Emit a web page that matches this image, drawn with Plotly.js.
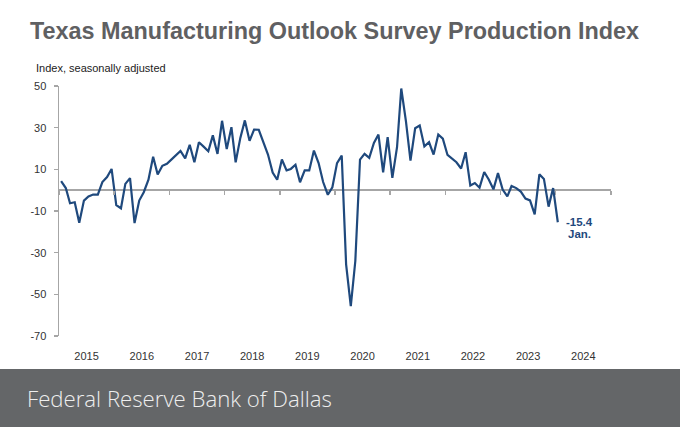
<!DOCTYPE html>
<html>
<head>
<meta charset="utf-8">
<script src="https://cdn.plot.ly/plotly-3.0.1.min.js"></script>
<style>
  html, body { margin: 0; padding: 0; background: #ffffff; }
  #chart { width: 680px; height: 427px; }
</style>
</head>
<body>
<div id="chart"></div>
<script>
// Monthly production index values (seasonally adjusted)
const years = [2015, 2016, 2017, 2018, 2019, 2020, 2021, 2022, 2023, 2024];
const v2015 = [4.3, 1.0, -6.3, -5.8, -15.6, -5.0, -3.0, -2.1, -2.1, 3.9, 6.3, 10.2];
const v2016 = [-7.2, -8.7, 3.0, 5.8, -15.8, -5.0, -1.0, 5.0, 16.0, 7.5, 11.7, 12.7];
const v2017 = [14.8, 16.8, 18.8, 15.3, 21.8, 13.4, 23.0, 20.9, 18.7, 26.3, 17.4, 33.3];
const v2018 = [19.7, 30.2, 13.4, 25.1, 33.5, 23.7, 29.1, 29.0, 22.5, 17.1, 8.5, 5.0];
const v2019 = [14.7, 9.5, 10.2, 12.2, 3.8, 9.5, 9.5, 19.0, 13.0, 3.9, -2.2, 1.4];
const v2020 = [13.0, 16.6, -35.6, -55.7, -34.0, 14.7, 17.4, 15.5, 22.7, 26.7, 8.6, 25.5];
const v2021 = [5.9, 20.6, 48.8, 33.0, 14.2, 29.7, 31.0, 21.0, 23.0, 17.1, 26.7, 24.7];
const v2022 = [16.9, 15.0, 13.4, 10.4, 18.2, 2.2, 3.4, 1.2, 8.7, 5.1, 0.4, 8.2];
const v2023 = [0.3, -3.0, 2.0, 1.0, -0.7, -4.0, -4.9, -11.6, 7.6, 5.4, -7.9, 1.0];
const v2024 = [-15.4];
const yearValues = [v2015, v2016, v2017, v2018, v2019, v2020, v2021, v2022, v2023, v2024];

// Y-axis tick values and labels (plain hyphen minus, as in the original)
const yTickValues = [-70, -50, -30, -10, 10, 30, 50];
const yTickLabels = ["-70", "-50", "-30", "-10", "10", "30", "50"];

const lastLabelMonth = "Jan.";
const titleText = "Texas Manufacturing Outlook Survey Production Index";
const subtitleText = "Index, seasonally adjusted";
const footerText = "Federal Reserve Bank of Dallas";

// Build month dates (mid-month) from the year arrays
const xs = [];
const ys = [];
years.forEach((yr, i) => {
  yearValues[i].forEach((v, m) => {
    const mm = String(m + 1).padStart(2, "0");
    xs.push(`${yr}-${mm}-15`);
    ys.push(v);
  });
});
const lastX = xs[xs.length - 1];
const lastY = ys[ys.length - 1];

const navy = "#1F497D";
const axisGray = "#a6a6a6";
const labelFont = { family: "Liberation Sans, Arial, sans-serif", size: 11, color: "#333333" };

const data = [
  {
    type: "scatter",
    mode: "lines",
    x: xs,
    y: ys,
    line: { color: navy, width: 2.2 },
    hoverinfo: "skip",
    showlegend: false
  },
  {
    type: "scatter",
    mode: "lines",
    x: [],
    y: [],
    xaxis: "x2",
    hoverinfo: "skip",
    showlegend: false
  }
];

const layout = {
  width: 680,
  height: 427,
  margin: { l: 59, r: 69, t: 86, b: 91, pad: 0 },
  paper_bgcolor: "#ffffff",
  plot_bgcolor: "#ffffff",
  showlegend: false,
  title: {
    text: "<b>" + titleText + "</b>",
    xref: "container",
    yref: "container",
    x: 30 / 680,
    xanchor: "left",
    y: 1 - 31 / 427,
    yanchor: "middle",
    font: { family: "Liberation Sans, Arial, sans-serif", size: 23.4, color: "#5f6062" }
  },
  xaxis: {
    type: "date",
    range: ["2015-01-01", "2025-01-01"],
    tick0: "2015-01-01",
    dtick: "M12",
    tickformat: "%Y",
    ticklabelmode: "period",
    ticks: "",
    showgrid: false,
    showline: false,
    zeroline: false,
    tickfont: labelFont,
    ticklabelstandoff: 12,
    fixedrange: true
  },
  xaxis2: {
    type: "date",
    overlaying: "x",
    anchor: "free",
    position: 70 / 120,
    side: "bottom",
    range: ["2015-01-01", "2025-01-01"],
    tick0: "2015-01-01",
    dtick: "M12",
    ticks: "outside",
    ticklen: 4,
    tickwidth: 1.5,
    tickcolor: axisGray,
    showticklabels: false,
    showgrid: false,
    showline: false,
    zeroline: false,
    fixedrange: true
  },
  yaxis: {
    range: [-70, 50],
    tickmode: "array",
    tickvals: yTickValues,
    ticktext: yTickLabels,
    showline: true,
    linecolor: axisGray,
    linewidth: 1.5,
    ticks: "outside",
    ticklen: 4,
    tickwidth: 1.5,
    tickcolor: axisGray,
    showgrid: false,
    zeroline: true,
    zerolinecolor: axisGray,
    zerolinewidth: 2,
    tickfont: labelFont,
    ticklabelstandoff: 5,
    fixedrange: true
  },
  shapes: [
    {
      type: "rect",
      xref: "paper",
      yref: "paper",
      x0: -0.2,
      x1: 1.3,
      y0: -0.5,
      y1: (336 - 369) / 250,
      fillcolor: "#646668",
      line: { width: 0 },
      layer: "below"
    }
  ],
  annotations: [
    {
      text: subtitleText,
      xref: "paper",
      yref: "paper",
      x: (34 - 59) / 552,
      y: (336 - 68) / 250,
      xanchor: "left",
      yanchor: "middle",
      showarrow: false,
      font: { family: "Liberation Sans, Arial, sans-serif", size: 11, color: "#222222" }
    },
    {
      text: footerText,
      xref: "paper",
      yref: "paper",
      x: (25 - 59) / 552,
      y: (336 - 398) / 250,
      xanchor: "left",
      yanchor: "middle",
      showarrow: false,
      font: { family: "Open Sans, Lato, sans-serif", size: 22.2, color: "#eeeeee", weight: 300 }
    },
    {
      text: "<b>" + lastY.toFixed(1) + "</b>",
      xref: "x",
      yref: "y",
      x: lastX,
      y: lastY,
      xanchor: "left",
      yanchor: "middle",
      align: "left",
      xshift: 6,
      yshift: 0,
      showarrow: false,
      font: { family: "Liberation Sans, Arial, sans-serif", size: 11.5, color: navy }
    },
    {
      text: "<b>" + lastLabelMonth + "</b>",
      xref: "x",
      yref: "y",
      x: lastX,
      y: lastY,
      xanchor: "left",
      yanchor: "middle",
      align: "left",
      xshift: 8,
      yshift: -12,
      showarrow: false,
      font: { family: "Liberation Sans, Arial, sans-serif", size: 11.5, color: navy }
    }
  ]
};

Plotly.newPlot("chart", data, layout, { displayModeBar: false, staticPlot: true });
</script>
</body>
</html>
